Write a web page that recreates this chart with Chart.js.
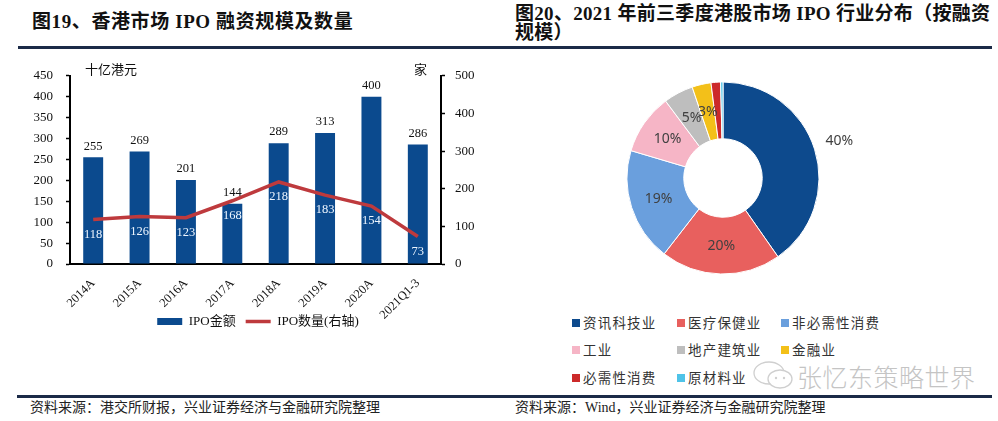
<!DOCTYPE html>
<html><head><meta charset="utf-8">
<script src="https://cdn.jsdelivr.net/npm/chart.js@4"></script>
<style>
html,body{margin:0;padding:0;}
body{width:998px;height:421px;background:#fff;position:relative;overflow:hidden;font-family:"Noto Sans CJK SC",sans-serif;color:#222;}
.abs{position:absolute;white-space:nowrap;}
.title{font-weight:700;color:#111;font-family:"Liberation Serif","Noto Sans CJK SC",serif;}
.rule{background:#1B2A47;}
.src{font-size:14px;line-height:18px;color:#222;font-family:"Liberation Serif","Noto Sans CJK SC",serif;}
.unit{font-size:13px;line-height:16px;color:#111;}
.lgi{position:absolute;font-size:13.5px;line-height:20px;letter-spacing:1.2px;color:#333;white-space:nowrap;}
.sw{display:inline-block;width:8px;height:8px;margin-right:3px;vertical-align:middle;position:relative;top:-1px;}
.wm{font-size:25px;line-height:30px;color:#c4c4c4;font-weight:300;letter-spacing:0.5px;}
</style></head>
<body>
<div class="abs title" style="left:32px;top:10px;line-height:24px;font-size:19px;letter-spacing:0.6px;">图19、香港市场 IPO 融资规模及数量</div>
<div class="abs title" style="left:515px;top:4px;line-height:19px;font-size:19px;letter-spacing:0.3px;">图20、2021 年前三季度港股市场 IPO 行业分布（按融资<br>规模）</div>
<div class="abs rule" style="left:18px;top:46px;width:974px;height:3px;"></div>

<canvas id="c1" class="abs" style="left:18px;top:55px;" width="480" height="283"></canvas>
<div class="abs unit" style="left:85px;top:61px;">十亿港元</div>
<div class="abs unit" style="left:414px;top:61px;">家</div>

<canvas id="c2" class="abs" style="left:573px;top:60px;" width="300" height="236"></canvas>
<div id="lg2"></div>

<svg class="abs" style="left:752px;top:360px;" width="44" height="32" viewBox="0 0 44 32">
  <ellipse cx="17" cy="13" rx="15" ry="11" fill="none" stroke="#cfcfcf" stroke-width="1.3"/>
  <ellipse cx="28" cy="19" rx="12" ry="9" fill="#fff" stroke="#cfcfcf" stroke-width="1.3"/>
  <circle cx="24" cy="18" r="1.2" fill="#cfcfcf"/><circle cx="32" cy="18" r="1.2" fill="#cfcfcf"/>
</svg>
<div class="abs wm" style="left:797px;top:361px;">张忆东策略世界</div>

<div class="abs rule" style="left:17px;top:395px;width:975px;height:2.5px;"></div>
<div class="abs src" style="left:30px;top:399px;">资料来源：港交所财报，兴业证券经济与金融研究院整理</div>
<div class="abs src" style="left:515px;top:399px;">资料来源：Wind，兴业证券经济与金融研究院整理</div>

<script>
// ---------- data ----------
const years = ['2014A','2015A','2016A','2017A','2018A','2019A','2020A','2021Q1-3'];
const ipoAmount = [255, 269, 201, 144, 289, 313, 400, 286];   // 十亿港元
const ipoCount  = [118, 126, 123, 168, 218, 183, 154, 73];    // 家 (右轴)
const seriesNames = ['IPO金额', 'IPO数量(右轴)'];
const leftAxis  = {min: 0, max: 450, step: 50};
const rightAxis = {min: 0, max: 500, step: 100};

const industries = ['资讯科技业','医疗保健业','非必需性消费','工业','地产建筑业','金融业','必需性消费','原材料业'];
const industryShare = [40.3, 20.2, 19.1, 10.2, 5.0, 3.2, 1.6, 0.4];
const industryColors = ['#0D4A8D','#E8605E','#6A9FDD','#F6B5C6','#BEBEBE','#F3C019','#CC2A2A','#4FC3E8'];

// ---------- chart 1 ----------
const serif = "'Liberation Serif','Noto Sans CJK SC',serif";
const valueLabels = {
  id: 'valueLabels',
  afterDatasetsDraw(chart) {
    const ctx = chart.ctx;
    const barMeta = chart.getDatasetMeta(0);
    const lineMeta = chart.getDatasetMeta(1);
    ctx.save();
    ctx.textAlign = 'center';
    ctx.textBaseline = 'middle';
    ctx.font = "12.5px " + serif;
    ctx.fillStyle = '#111';
    barMeta.data.forEach((el, i) => ctx.fillText(String(ipoAmount[i]), el.x, el.y - 11));
    ctx.fillStyle = '#EEF6FF';
    lineMeta.data.forEach((el, i) => ctx.fillText(String(ipoCount[i]), el.x, el.y + 15));
    ctx.restore();
  }
};

new Chart(document.getElementById('c1'), {
  data: {
    labels: years,
    datasets: [
      {type: 'bar', label: seriesNames[0], data: ipoAmount, yAxisID: 'y',
       backgroundColor: '#0B4A8E', borderWidth: 0, barPercentage: 0.43, categoryPercentage: 1,
       pointStyle: 'rect', order: 2},
      {type: 'line', label: seriesNames[1], data: ipoCount, yAxisID: 'y1',
       borderColor: '#BE3A3D', backgroundColor: '#BE3A3D', borderWidth: 3.5, pointRadius: 0,
       tension: 0, pointStyle: 'line', order: 1}
    ]
  },
  options: {
    responsive: false, animation: false,
    layout: {padding: {top: 8, left: 0, right: 0, bottom: 0}},
    plugins: {
      tooltip: {enabled: false},
      legend: {
        position: 'bottom',
        labels: {
          usePointStyle: true, pointStyleWidth: 25, boxHeight: 7, padding: 10,
          color: '#111', font: {family: serif, size: 13},
          sort: (a, b) => a.datasetIndex - b.datasetIndex
        }
      }
    },
    scales: {
      x: {
        grid: {display: true, drawOnChartArea: false, drawTicks: false},
        border: {color: '#000', width: 2},
        ticks: {minRotation: 45, maxRotation: 45, color: '#111', font: {family: serif, size: 12.5}, padding: 12},
        afterFit(s) { s.height = 41; },
        afterUpdate(s) { s._computeLabelArea = function () { return undefined; }; }
      },
      y: {
        position: 'left', min: leftAxis.min, max: leftAxis.max,
        ticks: {stepSize: leftAxis.step, color: '#111', font: {family: serif, size: 13}, padding: 13},
        grid: {drawOnChartArea: false, tickLength: 4, color: '#000', tickWidth: 1.5},
        border: {color: '#000', width: 2},
        afterFit(s) { s.width = 52; }
      },
      y1: {
        position: 'right', min: rightAxis.min, max: rightAxis.max,
        ticks: {stepSize: rightAxis.step, color: '#111', font: {family: serif, size: 13}, padding: 10},
        grid: {drawOnChartArea: false, tickLength: 4, color: '#000', tickWidth: 1.5},
        border: {color: '#000', width: 2},
        afterFit(s) { s.width = 57; }
      }
    }
  },
  plugins: [valueLabels]
});

// ---------- chart 2 ----------
const pctLabels = {
  id: 'pctLabels',
  afterDatasetsDraw(chart) {
    const ctx = chart.ctx;
    const meta = chart.getDatasetMeta(0);
    const total = industryShare.reduce((a, b) => a + b, 0);
    ctx.save();
    ctx.font = "14px 'Noto Sans','DejaVu Sans',sans-serif";
    ctx.fillStyle = '#404040';
    ctx.textAlign = 'center';
    ctx.textBaseline = 'middle';
    meta.data.forEach((arc, i) => {
      const pct = industryShare[i] / total * 100;
      if (pct < 2.5) return;
      const p = arc.getProps(['x','y','startAngle','endAngle','innerRadius','outerRadius'], true);
      const mid = (p.startAngle + p.endAngle) / 2;
      const r = pct > 30 ? p.outerRadius + 26 : (p.innerRadius + p.outerRadius) / 2;
      ctx.fillText(Math.round(pct) + '%', p.x + Math.cos(mid) * r, p.y + Math.sin(mid) * r);
    });
    ctx.restore();
  }
};

new Chart(document.getElementById('c2'), {
  type: 'doughnut',
  data: {
    labels: industries,
    datasets: [{data: industryShare, backgroundColor: industryColors, borderColor: '#fff', borderWidth: 1}]
  },
  options: {
    responsive: false, animation: false,
    radius: 96, cutout: 48,
    layout: {padding: 0},
    plugins: {legend: {display: false}, tooltip: {enabled: false}}
  },
  plugins: [pctLabels]
});

// HTML legend for chart 2
const lg = document.getElementById('lg2');
const colX = [572, 677, 781], rowY = [312, 339, 367];
industries.forEach((name, i) => {
  const d = document.createElement('div');
  d.className = 'lgi';
  d.style.left = colX[i % 3] + 'px';
  d.style.top = rowY[Math.floor(i / 3)] + 'px';
  const s = document.createElement('span');
  s.className = 'sw';
  s.style.background = industryColors[i];
  d.appendChild(s);
  d.appendChild(document.createTextNode(name));
  lg.appendChild(d);
});
</script>
</body></html>
